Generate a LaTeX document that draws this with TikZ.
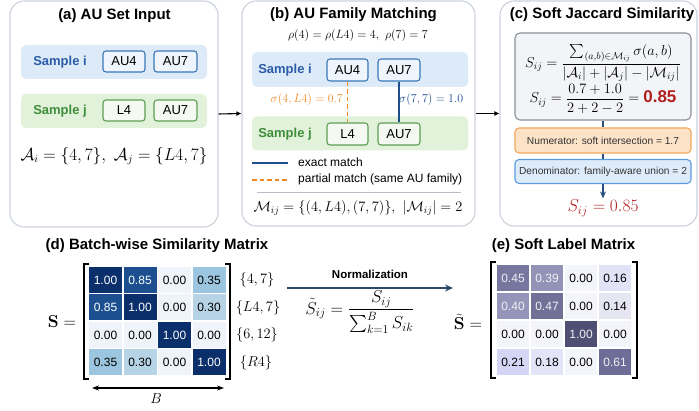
\documentclass[tikz,border=0pt]{standalone}
\usepackage{amsmath}
\usepackage{amsfonts}
\usepackage[no-math]{fontspec}
\setsansfont{Liberation Sans}
\usetikzlibrary{arrows.meta}

\definecolor{panelgray}{HTML}{CBD2DC}
\definecolor{bandblue}{HTML}{DDEBF9}
\definecolor{bandgreen}{HTML}{E2F1DA}
\definecolor{textblue}{HTML}{2A5CA8}
\definecolor{textgreen}{HTML}{3E8E3A}
\definecolor{boxblue}{HTML}{3A78B8}
\definecolor{boxgreen}{HTML}{5C9E55}
\definecolor{fillblue}{HTML}{EEF5FC}
\definecolor{fillgreen}{HTML}{F4FAF1}
\definecolor{matchorange}{HTML}{F08A24}
\definecolor{matchblue}{HTML}{1F4E8C}
\definecolor{sepgray}{HTML}{B8BEC8}
\definecolor{formgray}{HTML}{F3F4F7}
\definecolor{formborder}{HTML}{8A8F99}
\definecolor{numfill}{HTML}{FCE3C8}
\definecolor{numborder}{HTML}{F2A65A}
\definecolor{denfill}{HTML}{DDEBFA}
\definecolor{denborder}{HTML}{5B9BE0}
\definecolor{resred}{HTML}{B21F1F}
\definecolor{flowblue}{HTML}{2B4F7E}
\definecolor{steel}{HTML}{2E4A6B}
\definecolor{bA}{HTML}{0B2F6B}
\definecolor{bB}{HTML}{1B4F8F}
\definecolor{bC}{HTML}{9CC6DF}
\definecolor{bD}{HTML}{B7D4E7}
\definecolor{bZ}{HTML}{EEF4FA}
\definecolor{pA}{HTML}{4F4F73}
\definecolor{pB}{HTML}{6D6D97}
\definecolor{pC}{HTML}{717198}
\definecolor{pD}{HTML}{76769E}
\definecolor{pE}{HTML}{9595BA}
\definecolor{pF}{HTML}{9393B7}
\definecolor{pG}{HTML}{D5D5F5}
\definecolor{pH}{HTML}{E4E4F8}
\definecolor{pI}{HTML}{E3E3F8}
\definecolor{pJ}{HTML}{E6E6F2}
\definecolor{pZ}{HTML}{F4F4FB}
\definecolor{pW}{HTML}{F0F0F5}

\begin{document}
\begin{tikzpicture}[x=1pt,y=-1pt]
    \tikzstyle{panel}=[
        draw = panelgray,
        line width = 1.1pt,
        rounded corners = 14pt,
        inner sep = 0pt
    ]
    \tikzstyle{band}=[
        rounded corners = 5pt,
        inner sep = 0pt
    ]
    \tikzstyle{title}=[
        font = \sffamily\bfseries\fontsize{15}{18}\selectfont
    ]
    \tikzstyle{sample}=[
        font = \sffamily\bfseries\fontsize{13}{15}\selectfont
    ]
    \tikzstyle{au box}=[
        draw,
        line width = 1.1pt,
        rounded corners = 3pt,
        minimum height = 21pt,
        inner sep = 0pt,
        font = \sffamily\fontsize{13}{15}\selectfont
    ]
    \tikzstyle{legend}=[
        anchor = west,
        inner sep = 0pt,
        font = \sffamily\fontsize{12}{14}\selectfont
    ]
    \tikzstyle{info box}=[
        draw,
        line width = 1.1pt,
        rounded corners = 4pt,
        minimum width = 176pt,
        inner sep = 0pt,
        font = \sffamily\fontsize{10.2}{12}\selectfont,
        text = black!80
    ]
    \tikzstyle{cell}=[
        minimum width = 33pt,
        minimum height = 26pt,
        inner sep = 0pt,
        font = \sffamily\fontsize{12}{14}\selectfont
    ]
    \tikzstyle{bracket}=[
        line width = 1.8pt
    ]
    \tikzstyle{flow}=[
        draw = flowblue,
        line width = 1.2pt
    ]

    \useasboundingbox (0,0) rectangle (699,411);

    % (a)
    \node[panel, minimum width=208pt, minimum height=226pt] (pa) at (114,114) {};
    \node[title] (ta) at (114.5,16) {(a) AU Set Input};
    \node[band, fill=bandblue, minimum width=186pt, minimum height=34pt] (ai) at (114,62) {};
    \node[band, fill=bandgreen, minimum width=186pt, minimum height=34pt] (aj) at (114,111) {};
    \node[sample, text=textblue]  (ait) at (60,62)  {Sample i};
    \node[sample, text=textgreen] (ajt) at (60,111) {Sample j};
    \node[au box, draw=boxblue, fill=fillblue, minimum width=42pt]    (ai4) at (124,61.5)   {AU4};
    \node[au box, draw=boxblue, fill=fillblue, minimum width=43pt]    (ai7) at (175.5,61.5) {AU7};
    \node[au box, draw=boxgreen, fill=fillgreen, minimum width=42pt]  (ajL) at (124,110.5)   {L4};
    \node[au box, draw=boxgreen, fill=fillgreen, minimum width=43pt]  (aj7) at (175.5,110.5) {AU7};
    \node[font=\fontsize{16}{19}\selectfont] (aset) at (114,156)
        {$\mathcal{A}_i=\{4,7\},\ \mathcal{A}_j=\{L4,7\}$};

    % (b)
    \node[panel, minimum width=233pt, minimum height=225pt] (pb) at (358.5,113.5) {};
    \node[title] (tb) at (353.5,15) {(b) AU Family Matching};
    \node[font=\fontsize{12.5}{15}\selectfont] (rho) at (358,36)
        {$\rho(4)=\rho(L4)=4,\ \rho(7)=7$};
    \node[band, fill=bandblue, minimum width=216pt, minimum height=35pt] (bi) at (360,69.5) {};
    \node[band, fill=bandgreen, minimum width=216pt, minimum height=34pt] (bj) at (360,133.5) {};
    \node[sample, text=textblue]  (bit) at (285,70)  {Sample i};
    \node[sample, text=textgreen] (bjt) at (285,134) {Sample j};
    \node[au box, draw=boxblue, fill=fillblue, minimum width=41pt, minimum height=22pt]   (bi4) at (347.5,70) {AU4};
    \node[au box, draw=boxblue, fill=fillblue, minimum width=42pt, minimum height=22pt]   (bi7) at (399,70)   {AU7};
    \node[au box, draw=boxgreen, fill=fillgreen, minimum width=41pt, minimum height=22pt] (bjL) at (347.5,134) {L4};
    \node[au box, draw=boxgreen, fill=fillgreen, minimum width=42pt, minimum height=22pt] (bj7) at (399,134)   {AU7};
    \draw[matchorange, line width=1.5pt, dash pattern=on 4.5pt off 3pt] (bi4.south) -- (bjL.north);
    \draw[matchblue, line width=1.3pt] (bi7.south) -- (bj7.north);
    \node[anchor=east, inner sep=0pt, text=matchorange, font=\fontsize{12.5}{15}\selectfont] (sp) at (343,100)
        {$\sigma(4,L4)=0.7$};
    \node[anchor=west, inner sep=0pt, text=matchblue, font=\fontsize{12.5}{15}\selectfont] (se) at (399,100)
        {$\sigma(7,7)=1.0$};
    \coordinate (l1a) at (252,163);
    \coordinate (l1b) at (288,163);
    \coordinate (l2a) at (252,180);
    \coordinate (l2b) at (288,180);
    \draw[matchblue, line width=1.3pt] (l1a) -- (l1b);
    \draw[matchorange, line width=1.5pt, dash pattern=on 4.5pt off 3pt] (l2a) -- (l2b);
    \node[legend] (le) at (298,162) {exact match};
    \node[legend] (lp) at (298,179) {partial match (same AU family)};
    \coordinate (sa) at (257,193);
    \coordinate (sb) at (461,193);
    \draw[sepgray, line width=1pt] (sa) -- (sb);
    \node[font=\fontsize{14.5}{17}\selectfont] (mset) at (358,208)
        {$\mathcal{M}_{ij}=\{(4,L4),(7,7)\},\ |\mathcal{M}_{ij}|=2$};

    % (c)
    \node[panel, minimum width=197pt, minimum height=225pt] (pc) at (598.5,113.5) {};
    \node[title] (tc) at (602,15) {(c) Soft Jaccard Similarity};
    \node[draw=formborder, fill=formgray, line width=1.1pt, rounded corners=5pt,
          minimum width=176pt, minimum height=87pt, inner sep=0pt] (fbox) at (603,76.5) {};
    \node[font=\fontsize{14}{17}\selectfont] (f1) at (603,63)
        {$\displaystyle S_{ij}=\frac{\sum_{(a,b)\in\mathcal{M}_{ij}}\sigma(a,b)}{|\mathcal{A}_i|+|\mathcal{A}_j|-|\mathcal{M}_{ij}|}$};
    \node[font=\fontsize{14}{17}\selectfont] (f2) at (603,99)
        {$\displaystyle S_{ij}=\frac{0.7+1.0}{2+2-2}=\mbox{\color{resred}\sffamily\bfseries\fontsize{17}{20}\selectfont 0.85}$};
    \node[info box, draw=numborder, fill=numfill, minimum height=25pt] (num) at (603,140.5)
        {Numerator: soft intersection = 1.7};
    \node[info box, draw=denborder, fill=denfill, minimum height=24pt] (den) at (603,171.5)
        {Denominator: family-aware union = 2};
    \node[text=resred, font=\fontsize{17}{20}\selectfont, inner sep=1pt] (res) at (603,208)
        {$S_{ij}=0.85$};
    \draw[flow] (fbox.south) -- (num.north);
    \draw[flow] (num.south) -- (den.north);
    \draw[flow, -{Stealth[length=7pt,width=6pt]}] (den.south) -- (res.north);

    % panel arrows
    \draw[line width=1.1pt, -{Latex[length=5pt,width=5pt]}] (pa.east) -- (pb.west);
    \draw[line width=1.1pt, -{Latex[length=5pt,width=5pt]}] (pb.east) -- (pc.west);

    % (d)
    \node[title] (td) at (157,246) {(d) Batch-wise Similarity Matrix};
    \node[font=\fontsize{16.5}{19}\selectfont, inner sep=1pt] (seq) at (62,322) {$\mathbf{S}=$};
    \foreach \line [count=\r] in {
        {1.00/bA/white,0.85/bB/white,0.00/bZ/black,0.35/bC/black},
        {0.85/bB/white,1.00/bA/white,0.00/bZ/black,0.30/bD/black},
        {0.00/bZ/black,0.00/bZ/black,1.00/bA/white,0.00/bZ/black},
        {0.35/bC/black,0.30/bD/black,0.00/bZ/black,1.00/bA/white}}
        \foreach \v/\c/\t [count=\k] in \line
            \node[cell, fill=\c, text=\t] (d-\r-\k) at ({71+34.5*\k},{252.5+27.5*\r}) {\v};
    \draw[bracket] (89,264) -- (84,264) -- (84,379) -- (89,379);
    \draw[bracket] (225,264) -- (230,264) -- (230,379) -- (225,379);
    \node[font=\fontsize{13.5}{16}\selectfont] (r1) at (257,280)   {$\{4,7\}$};
    \node[font=\fontsize{13.5}{16}\selectfont] (r2) at (258,307.5) {$\{L4,7\}$};
    \node[font=\fontsize{13.5}{16}\selectfont] (r3) at (257,335)   {$\{6,12\}$};
    \node[font=\fontsize{13.5}{16}\selectfont] (r4) at (256,362.5) {$\{R4\}$};
    \coordinate (ba) at (92,388);
    \coordinate (bb) at (224,388);
    \draw[line width=1.1pt, {Stealth[length=7pt,width=5pt]}-{Stealth[length=7pt,width=5pt]}] (ba) -- (bb);
    \node[font=\fontsize{15}{18}\selectfont] (bl) at (156,399) {$B$};

    % normalization
    \coordinate (na) at (287,288);
    \coordinate (nb) at (453,288);
    \draw[steel, line width=1.4pt, -{Stealth[length=8pt,width=7pt]}] (na) -- (nb);
    \node[font=\sffamily\bfseries\fontsize{11.5}{14}\selectfont] (nt) at (370,274) {Normalization};
    \node[font=\fontsize{17}{20}\selectfont, inner sep=0pt] (nf) at (360,312)
        {$\displaystyle \tilde{S}_{ij}=\frac{S_{ij}}{\sum_{k=1}^{B}S_{ik}}$};

    % (e)
    \node[title] (te) at (563.5,246) {(e) Soft Label Matrix};
    \node[font=\fontsize{16.5}{19}\selectfont, inner sep=1pt] (steq) at (468,322) {$\tilde{\mathbf{S}}=$};
    \foreach \line [count=\r] in {
        {0.45/pD/pW,0.39/pF/pW,0.00/pZ/black,0.16/pI/black},
        {0.40/pE/pW,0.47/pC/pW,0.00/pZ/black,0.14/pJ/black},
        {0.00/pZ/black,0.00/pZ/black,1.00/pA/pW,0.00/pZ/black},
        {0.21/pG/black,0.18/pH/black,0.00/pZ/black,0.61/pB/pW}}
        \foreach \v/\c/\t [count=\k] in \line
            \node[cell, minimum width=32pt, fill=\c, text=\t] (e-\r-\k) at ({479+34*\k},{250.5+28*\r}) {\v};
    \draw[bracket] (496,262) -- (491,262) -- (491,378) -- (496,378);
    \draw[bracket] (632,262) -- (637,262) -- (637,378) -- (632,378);

\end{tikzpicture}
\end{document}
